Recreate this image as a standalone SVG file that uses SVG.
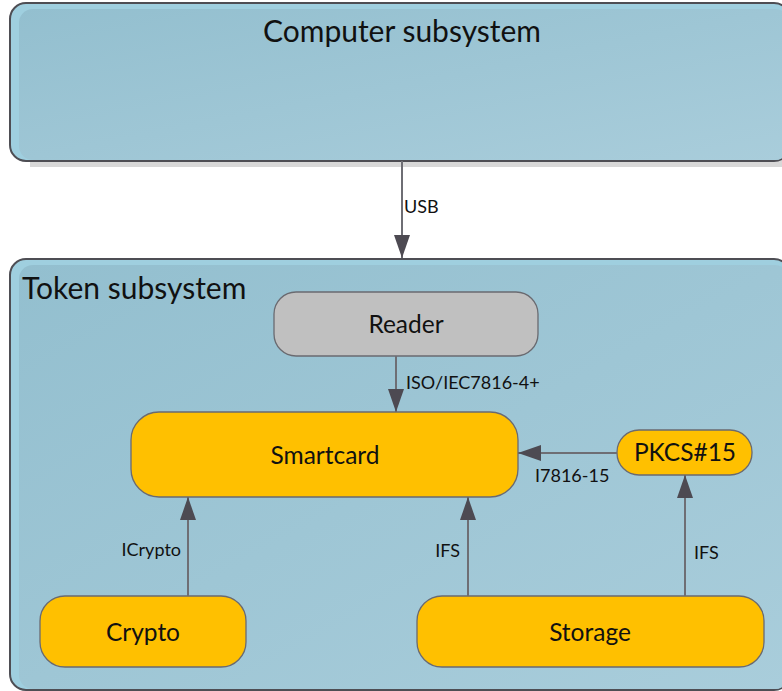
<svg xmlns="http://www.w3.org/2000/svg" width="782" height="691" viewBox="0 0 782 691">
  <defs>
    <linearGradient id="panelFill" x1="0" y1="0" x2="1" y2="1">
      <stop offset="0" stop-color="#93bfcf"/>
      <stop offset="1" stop-color="#a9cddb"/>
    </linearGradient>
    <marker id="arrowHead" viewBox="0 0 23 16" refX="23" refY="8" markerWidth="23" markerHeight="16" markerUnits="userSpaceOnUse" orient="auto">
      <path d="M0,0 L23,8 L0,16 Z" fill="#4d4a52"/>
    </marker>
  </defs>
  <style>
    .panel-shadow { fill: #d8d8d8; }
    .panel-outer { fill: #9fcfdf; stroke: #4e4e54; stroke-width: 2; }
    .panel-inner { fill: url(#panelFill); }
    .title { font-family: Lato, "Open Sans", sans-serif; font-size: 30px; fill: #111; }
    .node { stroke: #6a6a70; stroke-width: 1.3; }
    .reader { fill: #c0c0c0; }
    .gold { fill: #ffc000; }
    .node-label { font-family: Lato, "Open Sans", sans-serif; font-size: 24.5px; fill: #111; text-anchor: middle; dominant-baseline: central; }
    .edge { stroke: #6e6e74; stroke-width: 2; fill: none; marker-end: url(#arrowHead); }
    .edge-label { font-family: Lato, "Open Sans", sans-serif; font-size: 18px; fill: #111; }
  </style>

  <!-- Computer subsystem container -->
  <g id="computer-subsystem">
    <rect class="panel-shadow" x="30" y="160" width="752" height="7"/>
    <rect class="panel-outer" x="10" y="3" width="780" height="158" rx="16"/>
    <rect class="panel-inner" x="19" y="9" width="770" height="151" rx="14"/>
    <text class="title" x="402" y="42" text-anchor="middle">Computer subsystem</text>
  </g>

  <!-- Token subsystem container -->
  <g id="token-subsystem">
    <rect class="panel-outer" x="10" y="259" width="780" height="431" rx="16"/>
    <rect class="panel-inner" x="19" y="265" width="770" height="424" rx="14"/>
    <text class="title" x="22" y="299">Token subsystem</text>
  </g>

  <g id="reader">
    <rect class="node reader" x="274" y="292" width="264" height="64" rx="22"/>
    <text class="node-label" x="406" y="323">Reader</text>
  </g>

  <g id="smartcard">
    <rect class="node gold" x="131" y="412" width="387" height="85" rx="28"/>
    <text class="node-label" x="325" y="454">Smartcard</text>
  </g>

  <g id="pkcs15">
    <rect class="node gold" x="617" y="430" width="135" height="45" rx="22"/>
    <text class="node-label" x="685" y="451">PKCS#15</text>
  </g>

  <g id="crypto">
    <rect class="node gold" x="40" y="596" width="206" height="71" rx="25"/>
    <text class="node-label" x="143" y="631">Crypto</text>
  </g>

  <g id="storage">
    <rect class="node gold" x="417" y="596" width="347" height="71" rx="25"/>
    <text class="node-label" x="590" y="631">Storage</text>
  </g>

  <!-- Connectors -->
  <g id="connectors">
    <line class="edge" x1="402" y1="161" x2="402" y2="258"/>
    <text class="edge-label" x="404" y="213">USB</text>

    <line class="edge" x1="396" y1="356" x2="396" y2="412"/>
    <text class="edge-label" x="406" y="389">ISO/IEC7816-4+</text>

    <line class="edge" x1="617" y1="453" x2="518" y2="453"/>
    <text class="edge-label" x="535" y="482">I7816-15</text>

    <line class="edge" x1="188" y1="596" x2="188" y2="497"/>
    <text class="edge-label" x="181" y="556" text-anchor="end">ICrypto</text>

    <line class="edge" x1="468" y1="596" x2="468" y2="497"/>
    <text class="edge-label" x="460" y="557" text-anchor="end">IFS</text>

    <line class="edge" x1="685" y1="596" x2="685" y2="475"/>
    <text class="edge-label" x="694" y="559">IFS</text>
  </g>
</svg>
